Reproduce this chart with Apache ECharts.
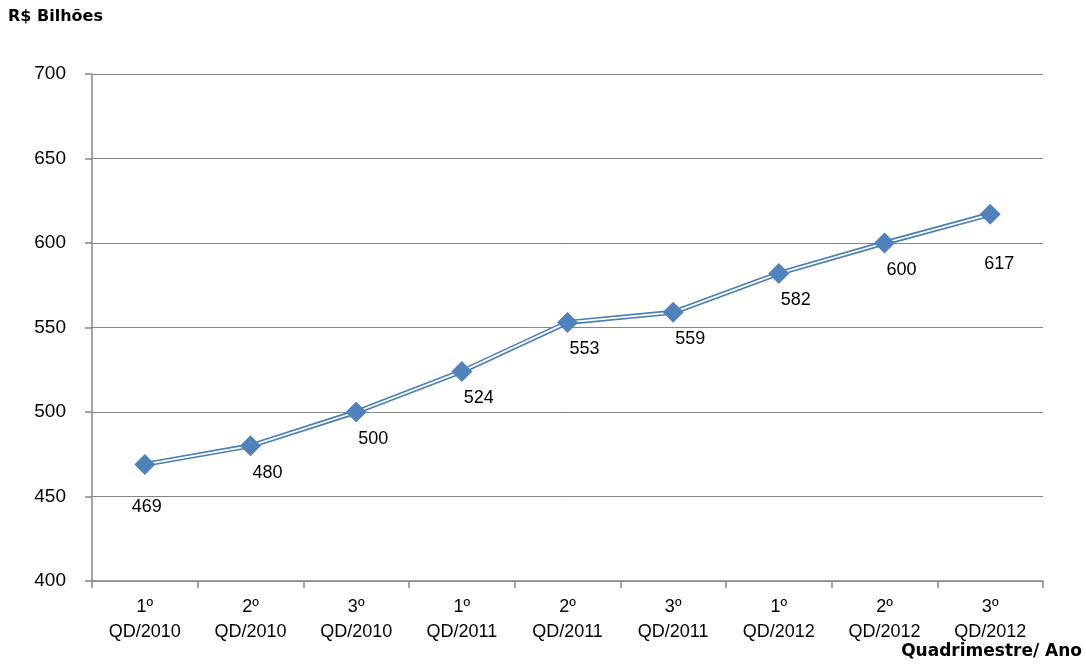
<!DOCTYPE html>
<html>
<head>
<meta charset="utf-8">
<script src="https://cdn.jsdelivr.net/npm/echarts@6/dist/echarts.min.js"></script>
<style>
  html, body { margin: 0; padding: 0; background: #fff; }
  #chart { width: 1086px; height: 664px; }
</style>
</head>
<body>
<div id="chart"></div>
<script>
// dados
const categories = [
    '1º\nQD/2010', '2º\nQD/2010', '3º\nQD/2010',
    '1º\nQD/2011', '2º\nQD/2011', '3º\nQD/2011',
    '1º\nQD/2012', '2º\nQD/2012', '3º\nQD/2012'
]
const values = [469, 480, 500, 524, 553, 559, 582, 600, 617]
const yTicks = { min: 400, max: 700, interval: 50 }

const FONT = "'Liberation Sans', Arial, sans-serif"
const BOLD_FONT = "'DejaVu Sans', sans-serif"
const AXIS_GRAY = '#868686'
const BLUE = '#4f81bd'

const chart = echarts.init(document.getElementById('chart'))

// rótulos abaixo dos pontos, deslocados como no original
const labelOffset = i => {
    if (i === 0) return [2, 43]
    if (i === values.length - 1) return [9, 50]
    return [17, 27]
}

const seriesData = values.map((v, i) => ({
    value: v,
    label: { offset: labelOffset(i) }
}))

chart.setOption({
    animation: false,
    textStyle: { fontFamily: FONT },
    grid: { left: 92, right: 43, top: 74, bottom: 83 },
    graphic: [
        {
            type: 'text', left: 8, top: 9,
            style: { text: 'R$ Bilhões', font: `bold 16px ${BOLD_FONT}`, fill: '#000' }
        },
        {
            type: 'text', right: 4, top: 643,
            style: { text: 'Quadrimestre/ Ano', font: `bold 17px ${BOLD_FONT}`, fill: '#000' }
        }
    ],
    xAxis: {
        type: 'category',
        data: categories,
        boundaryGap: true,
        axisLine: { lineStyle: { color: AXIS_GRAY, width: 1.5 } },
        axisTick: { show: true, length: 7, lineStyle: { color: AXIS_GRAY, width: 1.5 } },
        axisLabel: {
            interval: 0, margin: 14, color: '#000',
            fontSize: 18, lineHeight: 25, fontFamily: FONT
        },
        splitLine: { show: false }
    },
    yAxis: {
        type: 'value',
        min: yTicks.min, max: yTicks.max, interval: yTicks.interval,
        axisLine: { show: true, lineStyle: { color: AXIS_GRAY, width: 1.5 } },
        axisTick: { show: true, length: 7, lineStyle: { color: AXIS_GRAY, width: 1.5 } },
        axisLabel: { margin: 26, color: '#000', fontSize: 19, fontFamily: FONT },
        splitLine: { show: true, lineStyle: { color: AXIS_GRAY, width: 1 } }
    },
    series: [
        {
            // contorno azul da linha dupla
            type: 'line',
            data: values,
            symbol: 'none',
            lineStyle: { color: '#4a7ebb', width: 5 },
            silent: true,
            z: 2
        },
        {
            // miolo branco da linha dupla + marcadores
            type: 'line',
            data: seriesData,
            symbol: 'diamond',
            symbolSize: 21,
            itemStyle: { color: BLUE },
            lineStyle: { color: '#fff', width: 1.8 },
            label: {
                show: true, position: 'inside', color: '#000',
                fontSize: 18, fontFamily: FONT
            },
            z: 3
        }
    ]
})
</script>
</body>
</html>
